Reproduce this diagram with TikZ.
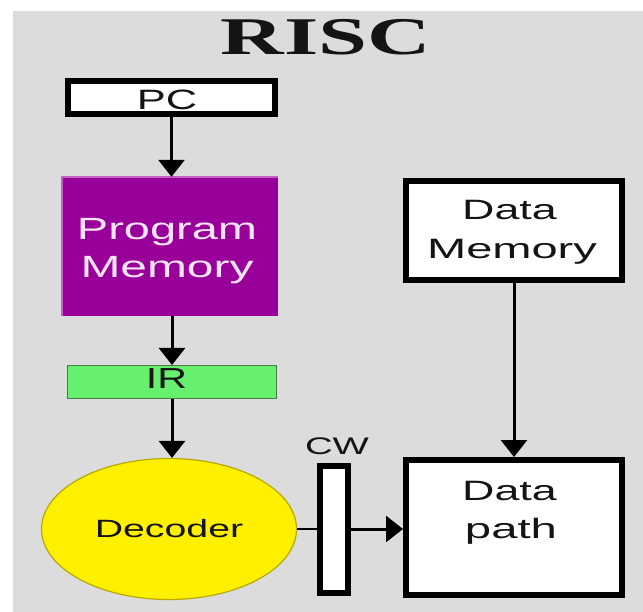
\documentclass[tikz,border=0pt]{standalone}
\usepackage{fontspec}
\usepackage{graphicx}
\setmainfont{Liberation Sans}
\newfontfamily\titlefont{Liberation Serif}
\usetikzlibrary{arrows.meta,shapes.geometric}
\definecolor{bggray}{HTML}{DCDCDC}
\definecolor{pmpurple}{HTML}{990099}
\definecolor{pmlight}{HTML}{C060C0}
\definecolor{pmtext}{HTML}{F8E4F8}
\definecolor{irgreen}{HTML}{66F06E}
\definecolor{irborder}{HTML}{4A7A4A}
\definecolor{decyellow}{HTML}{FFF000}
\definecolor{decedge}{HTML}{B8A800}
\definecolor{txtdark}{HTML}{141414}
\newcommand\sx[3]{\scalebox{#1}[1]{\fontsize{#2}{#2}\selectfont #3}}
\tikzset{
  blackbox/.style={draw=black, fill=white, line width=6pt, inner sep=0pt},
  conn/.style={line width=3pt, -{Triangle[width=26pt,length=17pt]}},
  plainconn/.style={line width=2.5pt},
  lbl/.style={inner sep=0pt, anchor=base, text=txtdark},
}
\begin{document}
\begin{tikzpicture}[x=1pt,y=-1pt]
\path[use as bounding box, fill=white] (0,0) rectangle (643,612);
\fill[bggray] (13,11) rectangle (643,612);

\node[lbl] (title) at (326,55) {\titlefont\bfseries\sx{1.66}{53}{RISC}};

% PC
\node[blackbox, minimum width=207pt, minimum height=33pt] (pc) at (171.5,97.5) {};
\node[lbl] (pctext) at (167,110) {\sx{1.55}{28}{PC}};

% Program memory
\node[fill=pmpurple, minimum width=216pt, minimum height=139pt, inner sep=0pt] (pm) at (170,246.5) {};
\draw[pmlight, line width=1.5pt] (pm.south west) -- (pm.north west) -- (pm.north east);
\node[lbl, text=pmtext] (pmt1) at (167,240) {\sx{1.53}{30.7}{Program}};
\node[lbl, text=pmtext] (pmt2) at (167,278) {\sx{1.56}{30.7}{Memory}};

% IR
\node[fill=irgreen, draw=irborder, line width=1pt, minimum width=209pt, minimum height=33pt, inner sep=0pt] (ir) at (172,382) {};
\node[lbl] (irtext) at (166.5,389) {\sx{1.42}{29}{IR}};

% Decoder
\node[ellipse, fill=decyellow, draw=decedge, line width=1.2pt, minimum width=255pt, minimum height=141pt, inner sep=0pt, text=txtdark] (dec) at (169,529) {\sx{1.57}{25}{Decoder}};

% CW bar
\node[blackbox, minimum width=28pt, minimum height=127pt] (cw) at (334,529.5) {};
\node[lbl] (cwtext) at (337,454) {\sx{1.6}{24}{CW}};

% Data memory
\node[blackbox, minimum width=216pt, minimum height=99pt] (dm) at (514,230.5) {};
\node[lbl] (dmt1) at (509.5,220) {\sx{1.6}{28}{Data}};
\node[lbl] (dmt2) at (512,259) {\sx{1.68}{28}{Memory}};

% Data path
\node[blackbox, minimum width=216pt, minimum height=135pt] (dp) at (514,527.5) {};
\node[lbl] (dpt1) at (509.5,500) {\sx{1.6}{28}{Data}};
\node[lbl] (dpt2) at (511,538) {\sx{1.69}{28}{path}};

% connectors
\draw[conn] (pc.south) -- (pc.south |- pm.north);
\draw[conn] (ir.north |- pm.south) -- (ir.north);
\draw[conn] (ir.south) -- (ir.south |- dec.north);
\draw[plainconn] (dec.east) -- (dec.east -| cw.west);
\draw[conn] (cw.east |- dec.east) -- (dec.east -| dp.west);
\draw[conn] (dm.south) -- (dp.north);
\end{tikzpicture}
\end{document}
